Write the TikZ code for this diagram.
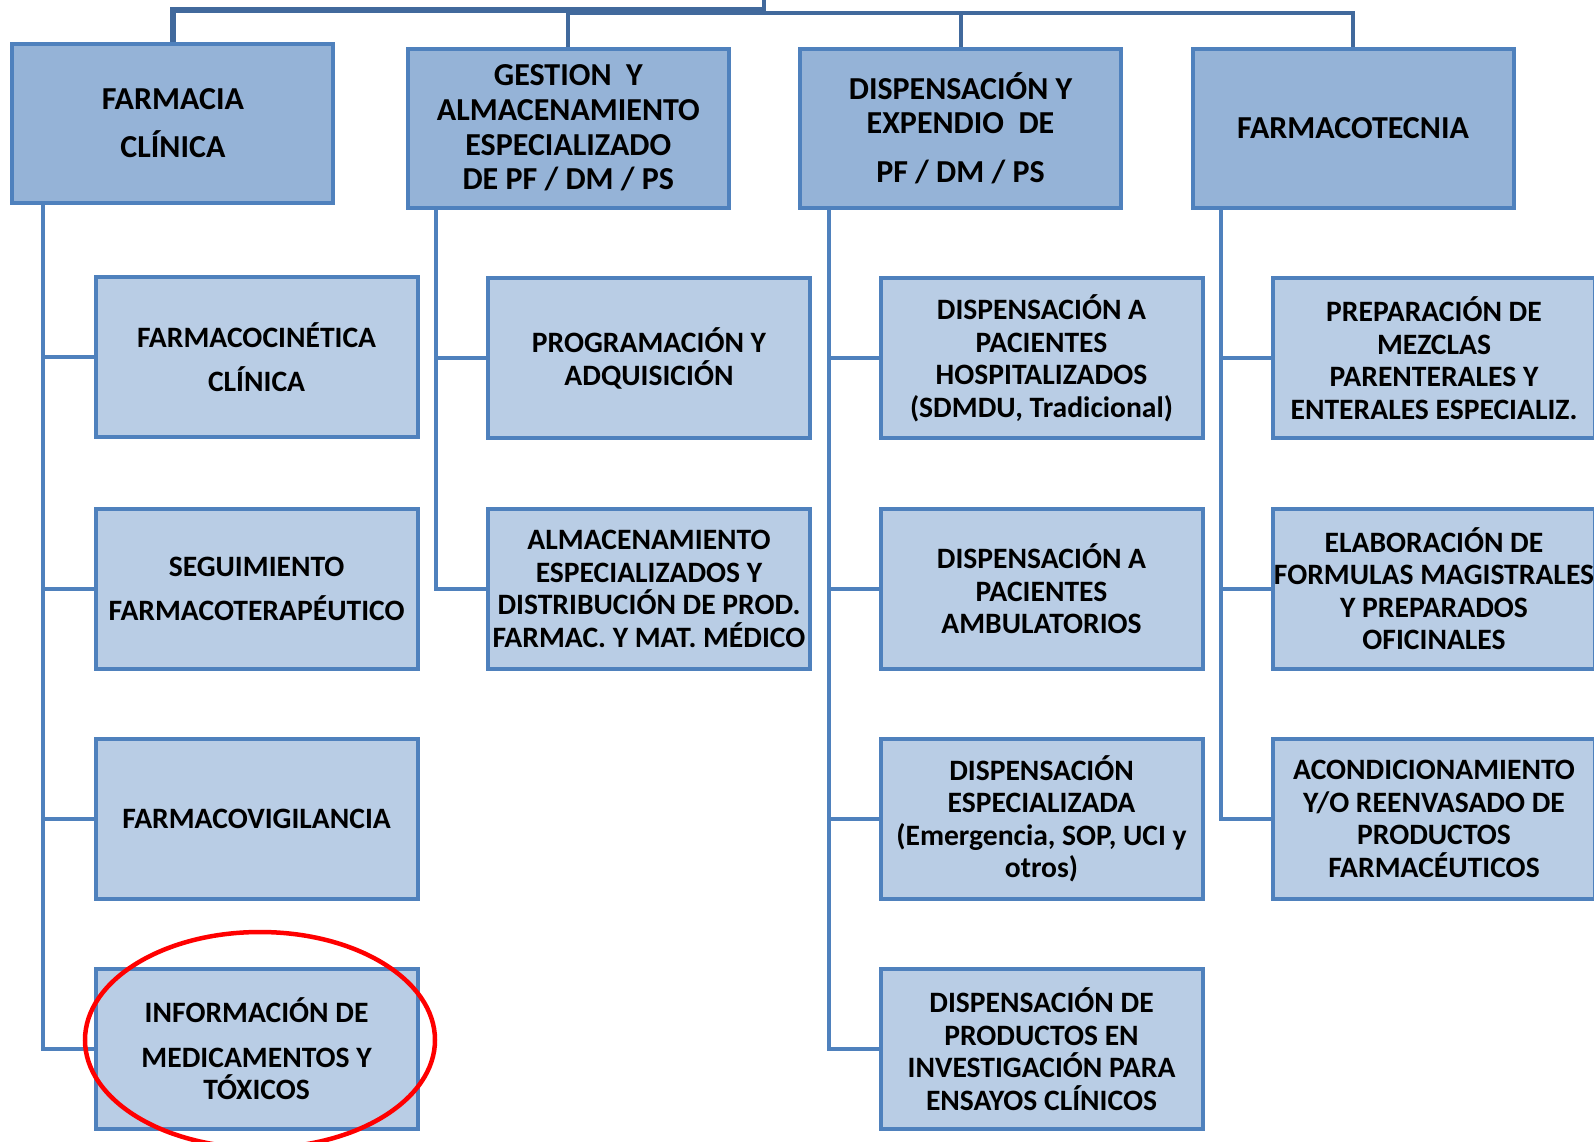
\documentclass[tikz,border=0pt]{standalone}
\usepackage{fontspec}
\setmainfont{Carlito}
\definecolor{boxline}{HTML}{4F81BD}
\definecolor{topfill}{HTML}{95B3D7}
\definecolor{subfill}{HTML}{B9CDE5}
\definecolor{busline}{HTML}{41699C}

\begin{document}
\begin{tikzpicture}[x=1pt,y=-1pt,
    topbox/.style={draw=boxline, fill=topfill, line width=4pt, minimum width=321pt, minimum height=159pt,
      inner sep=0pt, align=center, font=\fontsize{32}{34.6}\selectfont\bfseries},
    subbox/.style={draw=boxline, fill=subfill, line width=4pt, minimum width=322pt, minimum height=160pt,
      inner sep=0pt, align=center, font=\fontsize{29.6}{32.5}\selectfont\bfseries},
    link/.style={draw=boxline, line width=4pt},
    bus/.style={draw=busline, line width=4pt}]
			%%%%% START %%%%%
			
			\useasboundingbox (0,0) rectangle (1594,1141);
			
			% areas
			\node[topbox] (clin) at (172.9, 123.0) {FARMACIA\\[14pt]CLÍNICA};
			\node[topbox] (gest) at (568.3, 128.1) {GESTION\ \ Y\\ALMACENAMIENTO\\ESPECIALIZADO\\DE PF / DM / PS};
			\node[topbox] (disp) at (960.5, 128.1) {DISPENSACIÓN Y\\EXPENDIO\ \ DE\\[14pt]PF / DM / PS};
			\node[topbox] (ftec) at (1353.0, 128.1) {FARMACOTECNIA};
			
			% farmacia clinica
			\node[subbox] (clin1) at (256.6, 357.4) {FARMACOCINÉTICA\\[12pt]CLÍNICA};
			\node[subbox] (clin2) at (256.6, 588.7) {SEGUIMIENTO\\[12pt]FARMACOTERAPÉUTICO};
			\node[subbox] (clin3) at (256.6, 818.9) {FARMACOVIGILANCIA};
			\node[subbox] (clin4) at (256.6, 1049.1) {INFORMACIÓN DE\\[12pt]MEDICAMENTOS Y\\TÓXICOS};
			
			% gestion
			\node[subbox] (gest1) at (649.0, 358.4) {PROGRAMACIÓN Y\\ADQUISICIÓN};
			\node[subbox] (gest2) at (649.0, 588.7) {ALMACENAMIENTO\\ESPECIALIZADOS Y\\DISTRIBUCIÓN DE PROD.\\FARMAC. Y MAT. MÉDICO};
			
			% dispensacion
			\node[subbox] (disp1) at (1041.5, 358.4) {DISPENSACIÓN A\\PACIENTES\\HOSPITALIZADOS\\(SDMDU, Tradicional)};
			\node[subbox] (disp2) at (1041.5, 588.7) {DISPENSACIÓN A\\PACIENTES\\AMBULATORIOS};
			\node[subbox] (disp3) at (1041.5, 818.9) {DISPENSACIÓN\\ESPECIALIZADA\\(Emergencia, SOP, UCI y\\otros)};
			\node[subbox] (disp4) at (1041.5, 1049.1) {DISPENSACIÓN DE\\PRODUCTOS EN\\INVESTIGACIÓN PARA\\ENSAYOS CLÍNICOS};
			
			% farmacotecnia
			\node[subbox] (ftec1) at (1434.0, 358.4) {PREPARACIÓN DE\\MEZCLAS\\PARENTERALES Y\\ENTERALES ESPECIALIZ.};
			\node[subbox] (ftec2) at (1434.0, 588.7) {ELABORACIÓN DE\\FORMULAS MAGISTRALES\\Y PREPARADOS\\OFICINALES};
			\node[subbox] (ftec3) at (1434.0, 818.9) {ACONDICIONAMIENTO\\Y/O REENVASADO DE\\PRODUCTOS\\FARMACÉUTICOS};
			
			% top bus
			\coordinate (root) at (764, 0);
			\coordinate (busl) at (766, 9.7);
			\coordinate (busr) at (764, 13);
			\draw[bus] (root) -- (busr);
			\draw[bus, line width=6pt] (clin.north) -- (clin.north |- busl) -- (busl);
			\draw[bus] (gest.north) |- (busr);
			\draw[bus] (busr) -| (ftec.north);
			\draw[bus] (disp.north) -- (disp.north |- busr);
			
			% trunks
			\coordinate (t1) at ([xshift=-51pt]clin1.west);
			\coordinate (t2) at ([xshift=-50pt]gest1.west);
			\coordinate (t3) at ([xshift=-50pt]disp1.west);
			\coordinate (t4) at ([xshift=-50pt]ftec1.west);
			
			\draw[link] (t1 |- clin.south) |- (clin4.west);
			\draw[link] (t1 |- clin1.west) -- (clin1.west);
			\draw[link] (t1 |- clin2.west) -- (clin2.west);
			\draw[link] (t1 |- clin3.west) -- (clin3.west);
			
			\draw[link] (t2 |- gest.south) |- (gest2.west);
			\draw[link] (t2 |- gest1.west) -- (gest1.west);
			
			\draw[link] (t3 |- disp.south) |- (disp4.west);
			\draw[link] (t3 |- disp1.west) -- (disp1.west);
			\draw[link] (t3 |- disp2.west) -- (disp2.west);
			\draw[link] (t3 |- disp3.west) -- (disp3.west);
			
			\draw[link] (t4 |- ftec.south) |- (ftec3.west);
			\draw[link] (t4 |- ftec1.west) -- (ftec1.west);
			\draw[link] (t4 |- ftec2.west) -- (ftec2.west);
			
			% mark
			\draw[red, line width=4.5pt] (260, 1040) ellipse [x radius=175, y radius=108];
			
			%%%%% END %%%%%
\end{tikzpicture}
\end{document}
